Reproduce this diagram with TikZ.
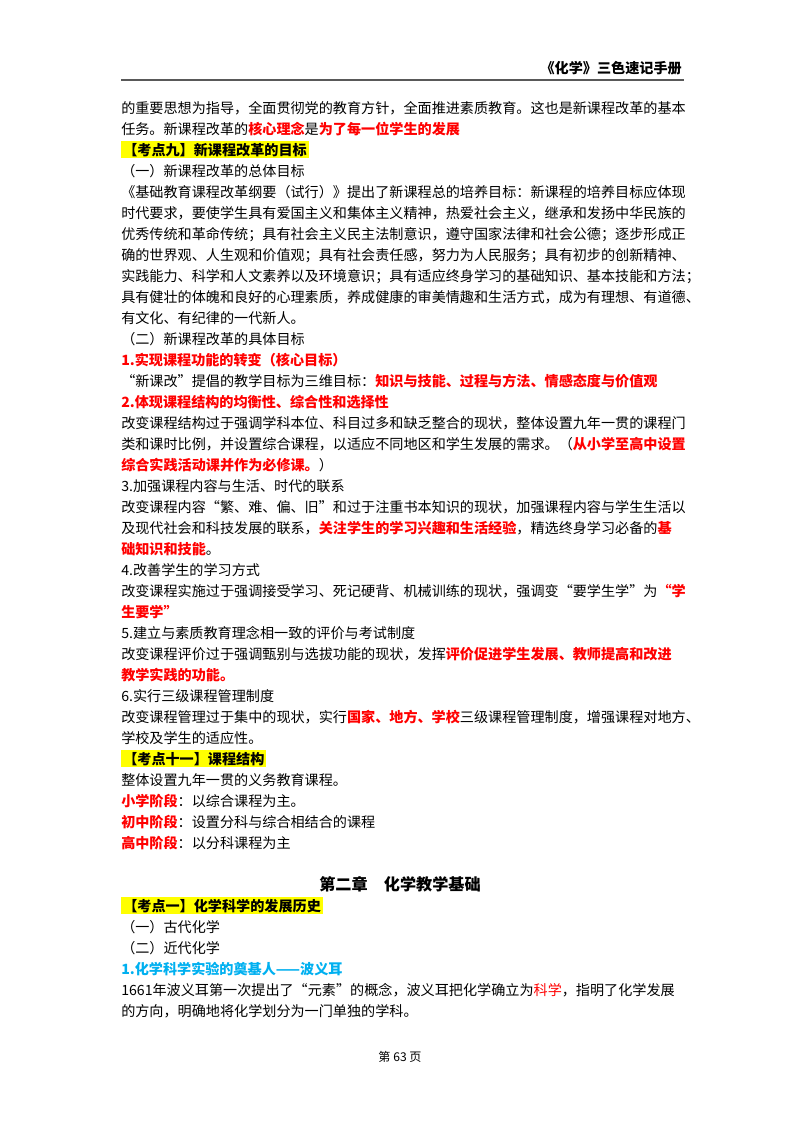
\documentclass[tikz,border=0pt]{standalone}
\usepackage{fontspec}
\newfontfamily\cjk{Noto Sans CJK SC}
\definecolor{hl}{RGB}{255,255,0}
\definecolor{sky}{RGB}{0,176,240}
\newcommand\R[1]{{\color{red}\bfseries #1}}
\begin{document}
\begin{tikzpicture}[x=0.744pt,y=-0.744pt,
  ln/.style={anchor=base west,inner sep=0pt,font=\cjk\fontsize{10.5}{12}\selectfont},
  hb/.style={ln,fill=hl,inner sep=1.5pt,font=\cjk\bfseries\fontsize{10.5}{12}\selectfont}]
\useasboundingbox[fill=white] (0,0) rectangle (800,1132);
\node[ln,anchor=base east,font=\cjk\bfseries\fontsize{10.5}{12}\selectfont] (hd) at (682,73) {《化学》三色速记手册};
\coordinate (r1) at (121,80); \coordinate (r2) at (684,80);
\draw[line width=0.8pt,gray!70!black] (r1) -- (r2);
\def\b#1{\the\numexpr #1+5\relax}
\node[ln] (l1) at (121,113) {的重要思想为指导，全面贯彻党的教育方针，全面推进素质教育。这也是新课程改革的基本};
\node[ln] (l2) at (121,134) {任务。新课程改革的\R{核心理念}是\R{为了每一位学生的发展}};
\node[hb] (l3) at (121,155) {【考点九】新课程改革的目标};
\node[ln] (l4) at (121,176) {（一）新课程改革的总体目标};
\node[ln] (l5) at (121,197) {《基础教育课程改革纲要（试行）》提出了新课程总的培养目标：新课程的培养目标应体现};
\node[ln] (l6) at (121,218) {时代要求，要使学生具有爱国主义和集体主义精神，热爱社会主义，继承和发扬中华民族的};
\node[ln] (l7) at (121,239) {优秀传统和革命传统；具有社会主义民主法制意识，遵守国家法律和社会公德；逐步形成正};
\node[ln] (l8) at (121,260) {确的世界观、人生观和价值观；具有社会责任感，努力为人民服务；具有初步的创新精神、};
\node[ln] (l9) at (121,281) {实践能力、科学和人文素养以及环境意识；具有适应终身学习的基础知识、基本技能和方法；};
\node[ln] (l10) at (121,302) {具有健壮的体魄和良好的心理素质，养成健康的审美情趣和生活方式，成为有理想、有道德、};
\node[ln] (l11) at (121,323) {有文化、有纪律的一代新人。};
\node[ln] (l12) at (121,344) {（二）新课程改革的具体目标};
\node[ln] (l13) at (121,365) {\R{1.实现课程功能的转变（核心目标）}};
\node[ln] (l14) at (121,386) {“新课改”提倡的教学目标为三维目标：\R{知识与技能、过程与方法、情感态度与价值观}};
\node[ln] (l15) at (121,407) {\R{2.体现课程结构的均衡性、综合性和选择性}};
\node[ln] (l16) at (121,428) {改变课程结构过于强调学科本位、科目过多和缺乏整合的现状，整体设置九年一贯的课程门};
\node[ln] (l17) at (121,449) {类和课时比例，并设置综合课程，以适应不同地区和学生发展的需求。（\R{从小学至高中设置}};
\node[ln] (l18) at (121,470) {\R{综合实践活动课并作为必修课。}）};
\node[ln] (l19) at (121,491) {3.加强课程内容与生活、时代的联系};
\node[ln] (l20) at (121,512) {改变课程内容“繁、难、偏、旧”和过于注重书本知识的现状，加强课程内容与学生生活以};
\node[ln] (l21) at (121,533) {及现代社会和科技发展的联系，\R{关注学生的学习兴趣和生活经验}，精选终身学习必备的\R{基}};
\node[ln] (l22) at (121,554) {\R{础知识和技能}。};
\node[ln] (l23) at (121,575) {4.改善学生的学习方式};
\node[ln] (l24) at (121,596) {改变课程实施过于强调接受学习、死记硬背、机械训练的现状，强调变“要学生学”为\R{“学}};
\node[ln] (l25) at (121,617) {\R{生要学”}};
\node[ln] (l26) at (121,638) {5.建立与素质教育理念相一致的评价与考试制度};
\node[ln] (l27) at (121,659) {改变课程评价过于强调甄别与选拔功能的现状，发挥\R{评价促进学生发展、教师提高和改进}};
\node[ln] (l28) at (121,680) {\R{教学实践的功能。}};
\node[ln] (l29) at (121,701) {6.实行三级课程管理制度};
\node[ln] (l30) at (121,722) {改变课程管理过于集中的现状，实行\R{国家、地方、学校}三级课程管理制度，增强课程对地方、};
\node[ln] (l31) at (121,743) {学校及学生的适应性。};
\node[hb] (l32) at (121,764) {【考点十一】课程结构};
\node[ln] (l33) at (121,785) {整体设置九年一贯的义务教育课程。};
\node[ln] (l34) at (121,806) {\R{小学阶段}：以综合课程为主。};
\node[ln] (l35) at (121,827) {\R{初中阶段}：设置分科与综合相结合的课程};
\node[ln] (l36) at (121,848) {\R{高中阶段}：以分科课程为主};
\node[ln,anchor=base,font=\cjk\bfseries\fontsize{12}{14}\selectfont] (ch) at (400,890) {第二章\quad 化学教学基础};
\node[hb] (l37) at (121,911) {【考点一】化学科学的发展历史};
\node[ln] (l38) at (121,932) {（一）古代化学};
\node[ln] (l39) at (121,953) {（二）近代化学};
\node[ln] (l40) at (121,974) {{\color{sky}\bfseries 1.化学科学实验的奠基人——波义耳}};
\node[ln] (l41) at (121,995) {1661年波义耳第一次提出了“元素”的概念，波义耳把化学确立为{\color{red}科学}，指明了化学发展};
\node[ln] (l42) at (121,1016) {的方向，明确地将化学划分为一门单独的学科。};
\node[ln,anchor=base,font=\cjk\fontsize{9}{10}\selectfont] (pg) at (400,1061) {第 63 页};
\end{tikzpicture}
\end{document}
